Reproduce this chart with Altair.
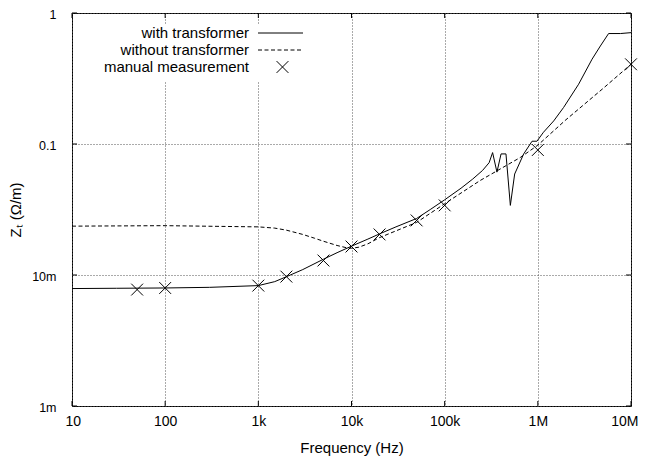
import altair as alt
import pandas as pd

# ---- data ----
freq_with = [10, 30, 100, 300, 1000, 1500, 2000, 3000, 5000, 7000, 10000, 15000,
             20000, 30000, 50000, 70000, 100000, 150000, 200000, 255000, 300000,
             327000, 364000, 403000, 455000, 507000, 564000, 705000, 867000,
             978000, 1150000, 1480000, 1890000, 2740000, 3820000, 4690000,
             5750000, 7700000, 10000000]
z_with = [0.00788, 0.00792, 0.00796, 0.00805, 0.0083, 0.0089, 0.0097, 0.0110,
          0.0132, 0.0148, 0.0166, 0.0188, 0.0206, 0.0233, 0.0270, 0.0316,
          0.0375, 0.046, 0.054, 0.0628, 0.072, 0.086, 0.061, 0.084, 0.084,
          0.034, 0.059, 0.084, 0.105, 0.105, 0.123, 0.150, 0.190, 0.286, 0.444,
          0.560, 0.697, 0.697, 0.708]

freq_without = [10, 100, 1000, 1500, 2000, 3000, 4000, 5000, 7000, 9000, 10000,
                12000, 15000, 20000, 50000, 100000, 240000, 650000, 1000000,
                2000000, 5000000, 10000000]
z_without = [0.0236, 0.0238, 0.0233, 0.0228, 0.0220, 0.0204, 0.0191, 0.0181,
             0.0168, 0.0161, 0.0160, 0.0163, 0.0173, 0.0193, 0.0252, 0.0350,
             0.0526, 0.079, 0.098, 0.153, 0.265, 0.406]

freq_manual = [50, 100, 1000, 2000, 5000, 10000, 20000, 50000, 100000, 1000000, 10000000]
z_manual = [0.00774, 0.00796, 0.0083, 0.00972, 0.0129, 0.0165, 0.0204, 0.0261,
            0.034, 0.090, 0.406]

x_ticks = [10, 100, 1000, 10000, 100000, 1000000, 10000000]
x_labels = ["10", "100", "1k", "10k", "100k", "1M", "10M"]
y_ticks = [0.001, 0.01, 0.1, 1]
y_labels = ["1m", "10m", "0.1", "1"]
legend_labels = ["with transformer", "without transformer", "manual measurement"]

# ---- layout ----
W, H = 559, 393
FONT = "Liberation Sans"
X_PATH = "M-1,-1L1,1M-1,1L1,-1"

df_with = pd.DataFrame({"f": freq_with, "z": z_with})
df_without = pd.DataFrame({"f": freq_without, "z": z_without})
df_manual = pd.DataFrame({"f": freq_manual, "z": z_manual})
df_xt = pd.DataFrame({"f": x_ticks})
df_yt = pd.DataFrame({"z": y_ticks})
one = pd.DataFrame({"a": [0]})

xs = alt.Scale(type="log", domain=[10, 10000000], nice=False)
ys = alt.Scale(type="log", domain=[0.001, 1], nice=False)


def js_list(vals):
    return "[" + ",".join(repr(v) if not isinstance(v, str) else "'" + v + "'" for v in vals) + "]"


x_axis = alt.Axis(values=x_ticks,
                  labelExpr=js_list(x_labels) + "[indexof(" + js_list(x_ticks) + ", datum.value)]",
                  labelPadding=8, labelFontSize=14, labelFlush=True, labelFlushOffset=7,
                  labelOverlap=False,
                  titleX=W / 2, titleY=41, titleBaseline="middle", titleAnchor="middle")
y_axis = alt.Axis(values=y_ticks,
                  labelExpr=js_list(y_labels) + "[indexof(" + js_list(y_ticks) + ", datum.value)]",
                  labelPadding=16, labelFontSize=12.5, labelOffset=1,
                  labelFlush=False, labelOverlap=False,
                  titleX=-57, titleY=H / 2, titleAngle=-90, titleBaseline="middle",
                  titleAlign="center")


def X(field="f:Q"):
    return alt.X(field, scale=xs, axis=x_axis, title="Frequency (Hz)")


def Y(field="z:Q"):
    return alt.Y(field, scale=ys, axis=y_axis, title="Zₜ (Ω/m)")


line_with = alt.Chart(df_with).mark_line(color="black", strokeWidth=1).encode(x=X(), y=Y())
line_without = alt.Chart(df_without).mark_line(color="black", strokeWidth=1,
                                                strokeDash=[4, 2.5]).encode(x=X(), y=Y())
points = alt.Chart(df_manual).mark_point(shape=X_PATH, size=140, filled=False,
                                          color="black", strokeWidth=1,
                                          opacity=1).encode(x=X(), y=Y())

# inward ticks on all four sides
TL = 5
ticks_b = alt.Chart(df_xt).mark_rule(color="black", strokeWidth=1).encode(
    x=X(), y=alt.value(H), y2=alt.value(H - TL))
ticks_t = alt.Chart(df_xt).mark_rule(color="black", strokeWidth=1).encode(
    x=X(), y=alt.value(0), y2=alt.value(TL))
ticks_l = alt.Chart(df_yt).mark_rule(color="black", strokeWidth=1).encode(
    y=Y(), x=alt.value(0), x2=alt.value(TL))
ticks_r = alt.Chart(df_yt).mark_rule(color="black", strokeWidth=1).encode(
    y=Y(), x=alt.value(W), x2=alt.value(W - TL))

# legend (key box is opaque)
LX_TEXT, LX0, LX1 = 177, 186, 231
LY0, LDY = 20, 17
key_box = alt.Chart(one).mark_rect(color="white", opacity=1).encode(
    x=alt.value(15), x2=alt.value(240), y=alt.value(12), y2=alt.value(68))

legend_layers = []
for i, lab in enumerate(legend_labels):
    ly = LY0 + LDY * i
    legend_layers.append(
        alt.Chart(pd.DataFrame({"label": [lab]})).mark_text(
            align="right", baseline="middle", font=FONT, fontSize=15, color="black"
        ).encode(x=alt.value(LX_TEXT), y=alt.value(ly), text="label:N"))
legend_layers.append(
    alt.Chart(one).mark_rule(color="black", strokeWidth=1).encode(
        x=alt.value(LX0), x2=alt.value(LX1), y=alt.value(LY0)))
legend_layers.append(
    alt.Chart(one).mark_rule(color="black", strokeWidth=1, strokeDash=[4, 2.5]).encode(
        x=alt.value(LX0), x2=alt.value(LX1), y=alt.value(LY0 + LDY)))
legend_layers.append(
    alt.Chart(one).mark_point(shape=X_PATH, size=140, filled=False, color="black",
                              strokeWidth=1, opacity=1).encode(
        x=alt.value((LX0 + LX1) / 2 + 2), y=alt.value(LY0 + 2 * LDY)))

chart = alt.layer(
    line_with, key_box, line_without, points, ticks_b, ticks_t, ticks_l, ticks_r,
    *legend_layers
).properties(
    width=W, height=H,
    autosize=alt.AutoSizeParams(type="none"),
    padding={"left": 64, "top": 5, "right": 7, "bottom": 52},
).configure_view(
    stroke="black", strokeWidth=1
).configure_axis(
    domain=False, ticks=False, grid=True, gridColor="#555555", gridDash=[1, 2],
    gridWidth=1, gridOpacity=1,
    labelFont=FONT, labelColor="black",
    titleFont=FONT, titleFontSize=15, titleColor="black", titleFontWeight="normal",
)

chart.save("out.html", embed_options={"renderer": "svg", "actions": False})
